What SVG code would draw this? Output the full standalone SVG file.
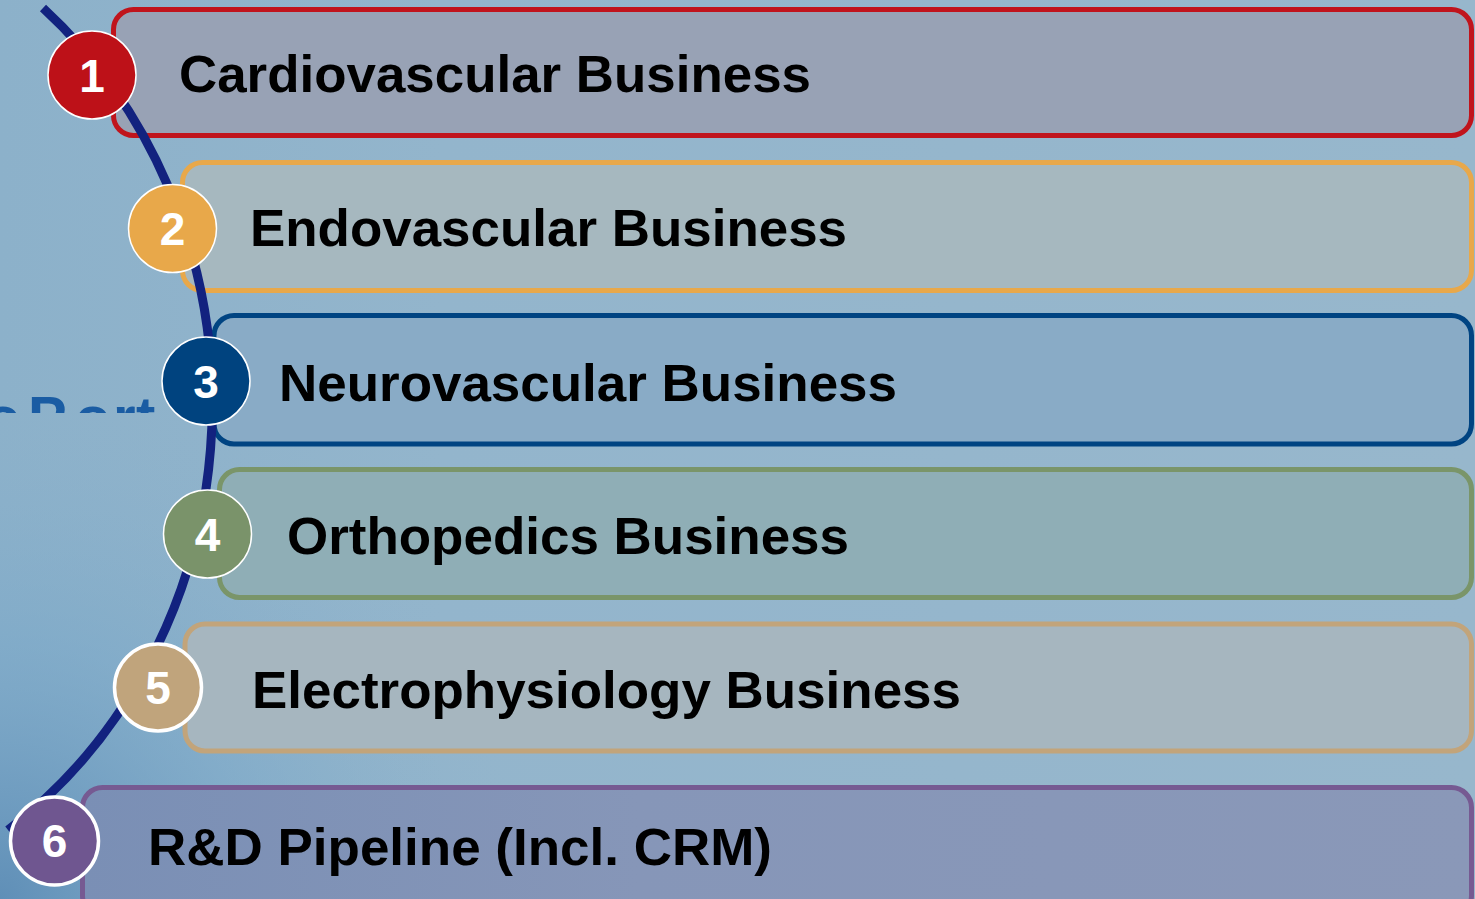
<svg xmlns="http://www.w3.org/2000/svg" width="1475" height="899" viewBox="0 0 1475 899">
  <defs>
    <linearGradient id="bg" x1="0" y1="0" x2="1" y2="0">
      <stop offset="0" stop-color="#8cb1ca"/>
      <stop offset="0.3" stop-color="#93b5cc"/>
      <stop offset="1" stop-color="#97b7cc"/>
    </linearGradient>
    <radialGradient id="bgShade" cx="0" cy="899" r="520" gradientUnits="userSpaceOnUse">
      <stop offset="0" stop-color="#5d8db6" stop-opacity="0.95"/>
      <stop offset="0.5" stop-color="#77a6c8" stop-opacity="0.5"/>
      <stop offset="1" stop-color="#8fb3cb" stop-opacity="0"/>
    </radialGradient>
    <linearGradient id="fill6" x1="0" y1="0" x2="1" y2="0">
      <stop offset="0" stop-color="#7a8fb5"/>
      <stop offset="0.4" stop-color="#8696b8"/>
      <stop offset="1" stop-color="#8a98b8"/>
    </linearGradient>
    <clipPath id="logoClip">
      <rect x="0" y="0" width="170" height="413"/>
    </clipPath>
  </defs>
  <style>
    .box { stroke-width: 5; }
    .label { font-family: "Liberation Sans", Arial, sans-serif; font-weight: bold; font-size: 52px; fill: #000; }
    .num { font-family: "Liberation Sans", Arial, sans-serif; font-weight: bold; font-size: 46px; fill: #fff; text-anchor: middle; }
    .badge { stroke: #fff; stroke-width: 1.5; }
    .badge.thick { stroke-width: 3.5; }
    .arc { fill: none; stroke: #12227f; stroke-width: 9; }
    .logo { font-family: "Liberation Sans", Arial, sans-serif; font-weight: bold; font-size: 58px; fill: #1a5ca3; }
  </style>

  <rect x="0" y="0" width="1475" height="899" fill="url(#bg)"/>
  <rect x="0" y="0" width="1475" height="899" fill="url(#bgShade)"/>

  <g id="background-logo" clip-path="url(#logoClip)">
    <text class="logo" x="-132 -84 -68 -36 -15 28 75 113 136" y="437">MicroPort</text>
  </g>

  <g id="node-1">
    <rect class="box" x="113.5" y="9.5" width="1358" height="126" rx="20" fill="#98a2b5" stroke="#c0141c"/>
    <text class="label" x="179" y="92" textLength="632" lengthAdjust="spacingAndGlyphs">Cardiovascular Business</text>
  </g>
  <g id="node-2">
    <rect class="box" x="182.5" y="162.5" width="1289" height="128" rx="20" fill="#a6b8bf" stroke="#e8a84a"/>
    <text class="label" x="250" y="246" textLength="597" lengthAdjust="spacingAndGlyphs">Endovascular Business</text>
  </g>
  <g id="node-3">
    <rect class="box" x="214" y="315.5" width="1257.5" height="128.5" rx="20" fill="#89abc6" stroke="#004482"/>
    <text class="label" x="279" y="401" textLength="618" lengthAdjust="spacingAndGlyphs">Neurovascular Business</text>
  </g>
  <g id="node-4">
    <rect class="box" x="219.5" y="469.5" width="1252" height="128" rx="20" fill="#8faeb6" stroke="#7a9569"/>
    <text class="label" x="287" y="554" textLength="562" lengthAdjust="spacingAndGlyphs">Orthopedics Business</text>
  </g>
  <g id="node-5">
    <rect class="box" x="185" y="624" width="1286.5" height="127" rx="20" fill="#a6b6bf" stroke="#c2a47a"/>
    <text class="label" x="252" y="708" textLength="709" lengthAdjust="spacingAndGlyphs">Electrophysiology Business</text>
  </g>
  <g id="node-6">
    <rect class="box" x="82.5" y="787.5" width="1389" height="128" rx="20" fill="url(#fill6)" stroke="#765a92"/>
    <text class="label" x="148" y="865" textLength="624" lengthAdjust="spacingAndGlyphs">R&amp;D Pipeline (Incl. CRM)</text>
  </g>

  <g id="connectors">
    <path class="arc" d="M 43 8 A 480 520 0 0 1 8 830"/>
  </g>

  <g id="badge-1">
    <circle class="badge" cx="92" cy="75" r="44" fill="#bd1118"/>
    <text class="num" x="92" y="92">1</text>
  </g>
  <g id="badge-2">
    <circle class="badge" cx="172.5" cy="228.5" r="44" fill="#e8a84a"/>
    <text class="num" x="172.5" y="245">2</text>
  </g>
  <g id="badge-3">
    <circle class="badge" cx="206" cy="381" r="44" fill="#00437f"/>
    <text class="num" x="206" y="398">3</text>
  </g>
  <g id="badge-4">
    <circle class="badge" cx="207.5" cy="534" r="44" fill="#7a936a"/>
    <text class="num" x="207.5" y="551">4</text>
  </g>
  <g id="badge-5">
    <circle class="badge thick" cx="158" cy="687.5" r="43.5" fill="#c0a47c"/>
    <text class="num" x="158" y="704">5</text>
  </g>
  <g id="badge-6">
    <circle class="badge thick" cx="54.5" cy="841" r="44" fill="#6f5690"/>
    <text class="num" x="54.5" y="857">6</text>
  </g>
</svg>
